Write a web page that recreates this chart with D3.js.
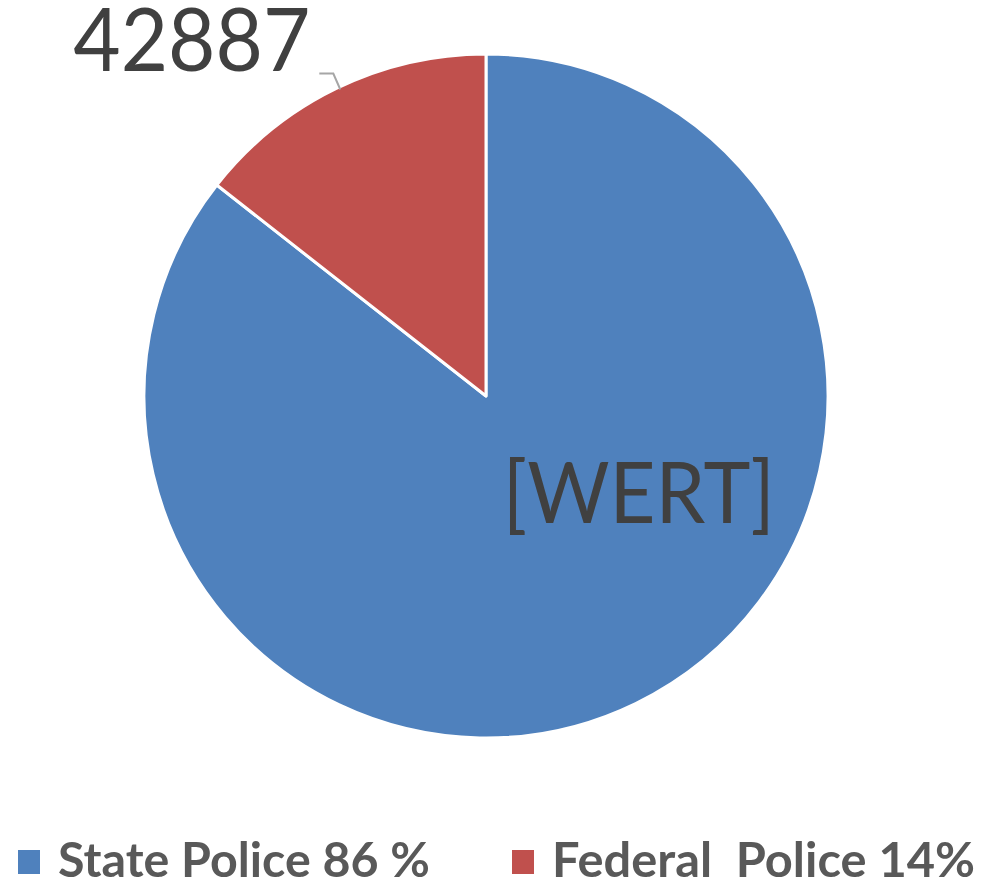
<!DOCTYPE html>
<html>
<head>
<meta charset="utf-8">
<script src="https://cdn.jsdelivr.net/npm/d3@7"></script>
<style>
  body { margin: 0; background: #fff; }
  svg { display: block; font-family: Lato, "Open Sans", sans-serif; }
</style>
</head>
<body>
<div id="chart"></div>
<script>
// chart data
var categories = ["State Police 86 %", "Federal  Police 14%"];
var values = [254500, 42887];
var labels = ["[WERT]", "42887"];
var colors = ["#4F81BD", "#C0504D"];

var svgWidth = 981;
var svgHeight = 883;
var cx = 486, cy = 396, radius = 342;

var svg = d3.select("#chart")
  .append("svg")
  .attr("width", svgWidth)
  .attr("height", svgHeight);

var chartGroup = svg.append("g")
  .attr("transform", `translate(${cx}, ${cy})`);

// pie goes clockwise from 12 o'clock, federal slice ends at 12
var pie = d3.pie()
  .sort(null)
  .value(d => d);

var arcs = pie(values);

var arc = d3.arc()
  .innerRadius(0)
  .outerRadius(radius);

chartGroup.selectAll("path")
  .data(arcs)
  .enter()
  .append("path")
  .attr("d", arc)
  .attr("fill", (d, i) => colors[i])
  .attr("stroke", "#fff")
  .attr("stroke-width", 3)
  .attr("stroke-linejoin", "round");

// data label inside the big slice (lower right part)
chartGroup.append("text")
  .attr("x", radius * 0.447)
  .attr("y", radius * 0.37)
  .attr("text-anchor", "middle")
  .attr("font-size", 86)
  .attr("fill", "#404040")
  .attr("textLength", 272)
  .attr("lengthAdjust", "spacingAndGlyphs")
  .text(labels[0]);

// outside label with leader line for the small slice
var edge = d3.arc().innerRadius(radius).outerRadius(radius).centroid(arcs[1]);
var p0 = [edge[0] + 4, edge[1] + 1];
var p1 = [p0[0] - 7, p0[1] - 16];
var p2 = [p1[0] - 14, p1[1]];

chartGroup.append("polyline")
  .attr("points", [p0, p1, p2].map(p => p.join(",")).join(" "))
  .attr("fill", "none")
  .attr("stroke", "#a6a6a6")
  .attr("stroke-width", 2);

chartGroup.append("text")
  .attr("x", p2[0] - 9)
  .attr("y", p2[1] - 3)
  .attr("text-anchor", "end")
  .attr("font-size", 88)
  .attr("fill", "#404040")
  .attr("textLength", 237)
  .attr("lengthAdjust", "spacingAndGlyphs")
  .text(labels[1]);

// legend
var legendX = [18, 512];
var legendW = [372, 423];
var legend = svg.append("g");

var item = legend.selectAll("g")
  .data(categories)
  .enter()
  .append("g")
  .attr("transform", (d, i) => `translate(${legendX[i]}, 850)`);

item.append("rect")
  .attr("width", 22)
  .attr("height", 24)
  .attr("fill", (d, i) => colors[i]);

item.append("text")
  .attr("x", 40)
  .attr("y", 27)
  .attr("font-size", 48)
  .attr("font-weight", "bold")
  .attr("fill", "#595959")
  .attr("textLength", (d, i) => legendW[i])
  .attr("lengthAdjust", "spacingAndGlyphs")
  .style("white-space", "pre")
  .text(d => d);
</script>
</body>
</html>
